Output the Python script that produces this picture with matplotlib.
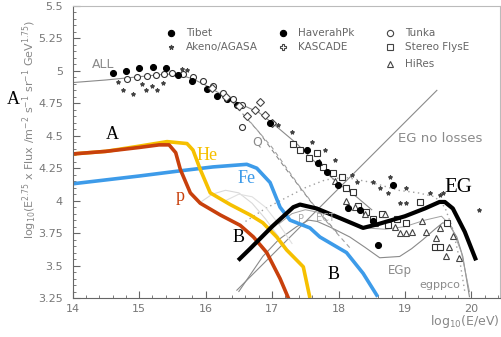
import matplotlib.pyplot as plt
from matplotlib.ticker import MultipleLocator

# ---- data (log10 E/eV, log10 E^2.75 flux) ----
tibet_x = [14.61, 14.80, 15.00, 15.21, 15.40, 15.59, 15.79, 16.02, 16.17, 16.32, 16.47]
tibet_y = [4.985, 5.00, 5.02, 5.03, 5.02, 4.97, 4.92, 4.86, 4.81, 4.78, 4.74]

tunka_x = [14.82, 14.97, 15.12, 15.25, 15.38, 15.50, 15.66, 15.81, 15.96, 16.11, 16.26, 16.41, 16.55, 16.55]
tunka_y = [4.94, 4.95, 4.96, 4.97, 4.975, 4.98, 4.975, 4.95, 4.92, 4.88, 4.83, 4.78, 4.74, 4.57]

agasa_x = [14.68, 14.76, 14.91, 15.04, 15.10, 15.19, 15.27, 15.36, 15.64, 15.72,
           17.09, 17.30, 17.60, 17.80, 17.95, 18.20, 18.28, 18.52, 18.62, 18.77,
           18.74, 18.92, 19.02, 19.02, 19.37, 19.52, 19.57, 20.12]
agasa_y = [4.915, 4.85, 4.82, 4.90, 4.85, 4.88, 4.85, 4.91, 5.015, 5.01,
           4.58, 4.53, 4.45, 4.39, 4.31, 4.20, 4.14, 4.14, 4.10, 4.18,
           4.06, 3.98, 4.10, 3.98, 4.06, 4.04, 4.06, 3.93]

kascade_x = [16.10, 16.30, 16.50, 16.63, 16.74, 16.82, 16.90, 17.00]
kascade_y = [4.87, 4.80, 4.73, 4.65, 4.70, 4.76, 4.66, 4.60]

haverah_x = [16.97, 17.52, 17.69, 17.82, 17.99, 18.14, 18.32, 18.52, 18.59, 18.82]
haverah_y = [4.60, 4.39, 4.29, 4.22, 4.12, 3.94, 3.93, 3.84, 3.66, 4.12]

stereo_x = [17.32, 17.42, 17.55, 17.68, 17.77, 17.92, 18.05, 18.12, 18.22, 18.30,
            18.42, 18.52, 18.65, 18.74, 18.88, 19.02, 19.22, 19.45, 19.52, 19.63]
stereo_y = [4.44, 4.39, 4.33, 4.37, 4.26, 4.21, 4.18, 4.10, 4.07, 3.96,
            3.91, 3.86, 3.90, 3.81, 3.86, 3.83, 3.99, 3.64, 3.64, 3.83]

hires_x = [17.70, 17.95, 18.12, 18.25, 18.40, 18.55, 18.70, 18.85, 18.92, 19.02,
           19.10, 19.25, 19.32, 19.47, 19.52, 19.62, 19.67, 19.72, 19.82]
hires_y = [4.30, 4.15, 4.00, 3.95, 3.90, 3.83, 3.90, 3.80, 3.75, 3.75,
           3.76, 3.84, 3.76, 3.71, 3.79, 3.57, 3.64, 3.73, 3.56]

# model curves
all_x = [14.0, 14.5, 15.0, 15.4, 15.6, 15.8, 16.0, 16.2, 16.5, 16.8, 17.0, 17.37, 17.7, 18.0, 18.27, 18.5]
all_y = [4.91, 4.93, 4.955, 4.975, 4.97, 4.94, 4.89, 4.83, 4.75, 4.68, 4.60, 4.44, 4.27, 4.13, 4.03, 3.93]

noloss_x = [16.47, 19.48]
noloss_y = [3.31, 4.85]

egp_x = [16.5, 16.86, 17.1, 17.37, 17.55, 17.68, 17.9, 18.17, 18.4, 18.62, 18.92, 19.1,
         19.27, 19.45, 19.57, 19.67, 19.78, 19.87, 19.97]
egp_y = [3.30, 3.57, 3.70, 3.80, 3.85, 3.84, 3.79, 3.72, 3.64, 3.56, 3.57, 3.63,
         3.70, 3.78, 3.83, 3.81, 3.72, 3.57, 3.26]

ect_x = [17.1, 17.3, 17.5, 17.8, 18.1, 18.4, 18.7, 19.0, 19.3, 19.55, 19.7, 19.85, 19.97]
ect_y = [3.82, 3.90, 3.93, 3.90, 3.84, 3.79, 3.78, 3.80, 3.85, 3.88, 3.80, 3.60, 3.30]

dash1_x = [16.4, 16.8, 17.2, 17.6, 18.0]
dash1_y = [4.76, 4.53, 4.25, 3.98, 3.74]
dash2_x = [16.6, 17.0, 17.4, 17.8, 18.2]
dash2_y = [4.65, 4.41, 4.12, 3.85, 3.62]

dot_x = [16.6, 16.9, 17.2, 17.5, 17.8, 18.1, 18.5, 18.9, 19.2, 19.45, 19.6, 19.72, 19.82, 19.9]
dot_y = [3.84, 3.94, 4.02, 4.10, 4.16, 4.18, 4.14, 4.08, 4.06, 4.03, 3.95, 3.78, 3.55, 3.30]

faint1_x = [15.9, 16.1, 16.3, 16.5, 16.7, 16.9, 17.1]
faint1_y = [3.98, 4.05, 4.08, 4.06, 3.98, 3.86, 3.72]
faint2_x = [16.3, 16.5, 16.7, 16.9, 17.1, 17.3]
faint2_y = [4.00, 4.05, 4.03, 3.95, 3.82, 3.67]

p_x = [14.0, 14.5, 15.0, 15.3, 15.45, 15.55, 15.62, 15.77, 15.92, 16.22, 16.52, 16.72, 16.92, 17.12, 17.27]
p_y = [4.36, 4.38, 4.41, 4.43, 4.43, 4.37, 4.24, 4.06, 3.98, 3.89, 3.81, 3.72, 3.60, 3.40, 3.22]

he_x = [14.0, 14.5, 15.0, 15.42, 15.72, 15.81, 15.92, 16.07, 16.37, 16.67, 16.86, 17.07, 17.22, 17.47, 17.57]
he_y = [4.36, 4.38, 4.42, 4.455, 4.44, 4.39, 4.24, 4.06, 3.97, 3.89, 3.83, 3.72, 3.62, 3.49, 3.25]

fe_x = [14.0, 15.0, 15.62, 16.11, 16.62, 16.77, 16.97, 17.12, 17.27, 17.57, 17.72, 18.12, 18.37, 18.59]
fe_y = [4.13, 4.19, 4.23, 4.26, 4.28, 4.25, 4.14, 3.95, 3.85, 3.79, 3.72, 3.60, 3.44, 3.26]

eg_x = [16.49, 16.67, 17.0, 17.32, 17.42, 17.67, 18.0, 18.37, 18.6, 19.0, 19.3, 19.52, 19.6, 19.72, 19.9, 20.07]
eg_y = [3.54, 3.63, 3.80, 3.95, 3.97, 3.94, 3.87, 3.79, 3.82, 3.88, 3.94, 3.99, 3.99, 3.94, 3.76, 3.54]

legend_names = ['Tibet', 'Akeno/AGASA', 'HaverahPk', 'KASCADE', 'Tunka', 'Stereo FlysE', 'HiRes']

GRAY = '#8a8a8a'
RED = '#c8400c'
YEL = '#f6c000'
BLUE = '#3d9be9'

fig = plt.figure(figsize=(5.02, 3.37), dpi=100)
ax = fig.add_axes([72.7 / 502, 39 / 337, 427.3 / 502, 292 / 337])
ax.set_xlim(14, 20.43)
ax.set_ylim(3.25, 5.5)

# thin model lines
ax.plot(all_x, all_y, color=GRAY, lw=0.8)
ax.plot(noloss_x, noloss_y, color=GRAY, lw=0.8)
ax.plot(egp_x, egp_y, color=GRAY, lw=0.8)
ax.plot(ect_x, ect_y, color='#a0a0a0', lw=0.7)
ax.plot(dash1_x, dash1_y, color=GRAY, lw=0.8, ls=(0, (4, 3)))
ax.plot(dash2_x, dash2_y, color='#a0a0a0', lw=0.8, ls=(0, (4, 3)))
ax.plot(dot_x, dot_y, color='#a0a0a0', lw=1.0, ls=(0, (1, 2.5)))
ax.plot(faint1_x, faint1_y, color='#d9d9d9', lw=0.8)
ax.plot(faint2_x, faint2_y, color='#e0e0e0', lw=0.8)

# data sets
mk = dict(linestyle='none', markeredgewidth=0.8)
ax.plot(agasa_x, agasa_y, marker='*', ms=3, color='#444444', **mk)
ax.plot(tunka_x, tunka_y, marker='o', ms=4.3, mfc='white', mec='#333333', **mk)
ax.plot(tibet_x, tibet_y, marker='o', ms=4.3, color='black', **mk)
ax.plot(kascade_x, kascade_y, marker='D', ms=3.8, mfc='white', mec='#444444', **mk)
ax.plot(stereo_x, stereo_y, marker='s', ms=4.3, mfc='white', mec='#333333', **mk)
ax.plot(hires_x, hires_y, marker='^', ms=4.3, mfc='white', mec='#444444', **mk)
ax.plot(haverah_x, haverah_y, marker='o', ms=4.3, color='black', **mk)

# coloured components
ax.plot(fe_x, fe_y, color=BLUE, lw=2.6, solid_capstyle='butt')
ax.plot(he_x, he_y, color=YEL, lw=2.6, solid_capstyle='butt')
ax.plot(p_x, p_y, color=RED, lw=2.6, solid_capstyle='butt')
ax.plot(eg_x, eg_y, color='black', lw=3.0, solid_capstyle='butt')

# legend drawn by hand (3 columns)
leg_markers = [('o', 'black', 'black', 4.5), ('*', '#444444', '#444444', 3.5),
               ('o', 'black', 'black', 4.5), ('P', 'white', '#444444', 5),
               ('o', 'white', '#444444', 4.5), ('s', 'white', '#444444', 4.5),
               ('^', 'white', '#444444', 4.5)]
leg_pos = [(0, 0), (0, 1), (1, 0), (1, 1), (2, 0), (2, 1), (2, 2)]
col_x = [0.23, 0.492, 0.742]
row_y = [0.909, 0.858, 0.803]
for name, (m, fc, ec, ms), (c, r) in zip(legend_names, leg_markers, leg_pos):
    ax.plot(col_x[c], row_y[r], marker=m, ms=ms, mfc=fc, mec=ec, mew=0.8,
            transform=ax.transAxes, clip_on=False)
    ax.text(col_x[c] + 0.035, row_y[r], name, transform=ax.transAxes,
            fontsize=7.5, color='#666666', va='center', ha='left')

# gray annotation text
tk = dict(color='#8a8a8a', ha='center', va='center')
ax.text(14.46, 5.05, 'ALL', fontsize=9, **tk)
ax.text(16.78, 4.45, 'Q', fontsize=9, **tk)
ax.text(19.53, 4.48, 'EG no losses', fontsize=9.5, **tk)
ax.text(18.92, 3.46, 'EGp', fontsize=8.5, **tk)
ax.text(19.53, 3.35, 'egppco', fontsize=8, **tk)
ax.text(17.43, 3.86, 'P', fontsize=7, color='#aaaaaa', ha='center', va='center')
ax.text(17.80, 3.87, 'ECT', fontsize=7, color='#aaaaaa', ha='center', va='center')

# serif overlay labels
sf = dict(family='Liberation Serif', ha='center', va='center')
ax.text(14.59, 4.51, 'A', fontsize=13, color='black', **sf)
ax.text(16.02, 4.345, 'He', fontsize=13, color=YEL, **sf)
ax.text(16.61, 4.17, 'Fe', fontsize=13, color=BLUE, **sf)
ax.text(15.61, 4.03, 'p', fontsize=13, color=RED, **sf)
ax.text(16.49, 3.72, 'B', fontsize=13, color='black', **sf)
ax.text(17.92, 3.43, 'B', fontsize=13, color='black', **sf)
ax.text(19.81, 4.105, 'EG', fontsize=15, color='black', **sf)
fig.text(13 / 502, 1 - 99 / 337, 'A', fontsize=13, family='Liberation Serif',
         ha='center', va='center')

# axes styling
for s in ['left', 'bottom']:
    ax.spines[s].set_color('#666666')
for s in ['top', 'right']:
    ax.spines[s].set_color('#bbbbbb')
ax.xaxis.set_major_locator(MultipleLocator(1))
ax.xaxis.set_minor_locator(MultipleLocator(0.2))
ax.set_yticks([3.25, 3.5, 3.75, 4, 4.25, 4.5, 4.75, 5, 5.25, 5.5])
ax.set_yticklabels(['3.25', '3.5', '3.75', '4', '4.25', '4.5', '4.75', '5', '5.25', '5.5'])
ax.yaxis.set_minor_locator(MultipleLocator(0.05))
ax.tick_params(which='both', direction='in', colors='#666666', labelcolor='#777777', labelsize=8)
ax.tick_params(which='major', length=5)
ax.tick_params(which='minor', length=2.5)
ax.tick_params(axis='y', pad=7)
ax.tick_params(axis='x', pad=4)

fig.text(29.5 / 502, 1 - 130 / 337,
         r'log$_{10}$(E$^{2.75}$ x Flux /m$^{-2}$ s$^{-1}$ sr$^{-1}$ GeV$^{1.75}$)',
         rotation=90, fontsize=8, color='#888888', ha='center', va='center')
fig.text(0.995, 1 - 322 / 337, r'log$_{10}$(E/eV)', fontsize=9, color='#888888',
         ha='right', va='center')

fig.savefig('out.png', dpi=100)
